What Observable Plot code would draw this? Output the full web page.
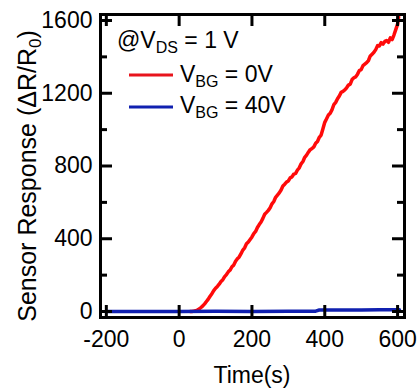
<!DOCTYPE html>
<html>
<head>
<meta charset="utf-8">
<script src="https://cdn.jsdelivr.net/npm/d3@7"></script>
<script src="https://cdn.jsdelivr.net/npm/@observablehq/plot@0.6"></script>
<style>
  body { margin: 0; background: #fff; }
  svg { font-family: "Liberation Sans", Arial, sans-serif; }
</style>
</head>
<body>
<div id="chart"></div>
<script>
// Red series: V_BG = 0V
const redTime = [30,35,40,45,50,55,60,65,70,75,80,85,90,95,100,105,110,115,120,125,130,135,140,145,150,155,160,165,170,175,180,185,190,195,200,205,210,215,220,225,230,235,240,245,250,255,260,265,270,275,280,285,290,295,300,305,310,315,320,325,330,335,340,345,350,355,360,365,370,375,380,385,390,395,400,405,410,415,420,425,430,435,440,445,450,455,460,465,470,475,480,485,490,495,500,505,510,515,520,525,530,535,540,545,550,555,560,565,570,575,580,585,590,595,600,603];
const redValue = [0,0,2,4,8,14,22,31,42,55,68,84,98,115,128,138,150,165,175,192,203,218,228,246,255,276,290,300,318,338,350,372,382,396,410,428,440,462,478,492,512,535,545,556,570,592,605,628,640,652,668,690,700,712,718,735,740,756,760,778,790,812,825,848,860,876,890,896,905,925,935,958,970,1005,1040,1060,1080,1090,1110,1138,1150,1170,1185,1205,1210,1218,1230,1245,1250,1275,1285,1290,1305,1325,1330,1352,1360,1368,1380,1405,1415,1425,1440,1462,1460,1478,1470,1485,1490,1480,1505,1495,1520,1550,1580,1620];
// Blue series: V_BG = 40V
const blueTime = [-200,-100,0,100,200,300,375,385,450,500,550,605];
const blueValue = [0,0,0,1,0,1,2,8,8,8,9,9];

const xTicks = [-200, 0, 200, 400, 600];
const yTicks = [0, 400, 800, 1200, 1600];
const yMinor = [200, 600, 1000, 1400];

const red = redTime.map((t, i) => ({t, v: redValue[i]}));
const blue = blueTime.map((t, i) => ({t, v: blueValue[i]}));

const W = 418, H = 390, ML = 100, MR = 14, MT = 14, MB = 73;
const PW = W - ML - MR, PH = H - MT - MB;
const FONT = "Liberation Sans, Arial, sans-serif";

const svg = Plot.plot({
  width: W, height: H,
  marginLeft: ML, marginRight: MR, marginTop: MT, marginBottom: MB,
  style: {fontFamily: FONT, background: "#fff", color: "#000"},
  x: {domain: [-216, 619]},
  y: {domain: [-33, 1633]},
  marks: [
    Plot.axisX({ticks: xTicks, tickSize: 0, tickPadding: 13, fontSize: 23, label: null, tickFormat: d => String(d)}),
    Plot.axisY({ticks: yTicks, tickSize: 0, tickPadding: 8, fontSize: 23, label: null, tickFormat: d => String(d)}),
    Plot.line(red, {x: "t", y: "v", stroke: "#ff0a0a", strokeWidth: 3.5}),
    Plot.line(blue, {x: "t", y: "v", stroke: "#1020b0", strokeWidth: 3.5}),
    // inward ticks
    Plot.tickX(xTicks, {x: d => d, insetTop: PH - 12, stroke: "#000", strokeWidth: 3}),
    Plot.tickX(xTicks, {x: d => d, insetBottom: PH - 12, stroke: "#000", strokeWidth: 3}),
    Plot.tickY(yTicks, {y: d => d, insetRight: PW - 12, stroke: "#000", strokeWidth: 3}),
    Plot.tickY(yTicks, {y: d => d, insetLeft: PW - 12, stroke: "#000", strokeWidth: 3}),
    Plot.tickY(yMinor, {y: d => d, insetRight: PW - 7, stroke: "#000", strokeWidth: 3}),
    Plot.tickY(yMinor, {y: d => d, insetLeft: PW - 7, stroke: "#000", strokeWidth: 3}),
    Plot.frame({stroke: "#000", strokeWidth: 3})
  ]
});

const s = d3.select(svg);

// x axis title
s.append("text")
  .attr("x", ML + PW / 2).attr("y", 383)
  .attr("text-anchor", "middle")
  .attr("font-size", 23).attr("font-family", FONT).attr("fill", "#000")
  .text("Time(s)");

// y axis title
const yl = s.append("text")
  .attr("transform", "translate(36,176) rotate(-90)")
  .attr("text-anchor", "middle")
  .attr("font-size", 25).attr("font-family", FONT).attr("fill", "#000");
yl.append("tspan").text("Sensor Response (ΔR/R");
yl.append("tspan").attr("font-size", 17).attr("dy", 5).text("0");
yl.append("tspan").attr("dy", -5).text(")");

// Legend
function subText(x, y, main, sub, rest) {
  const t = s.append("text").attr("x", x).attr("y", y)
    .attr("text-anchor", "start")
    .attr("font-size", 23).attr("font-family", FONT).attr("fill", "#000");
  t.append("tspan").text(main);
  t.append("tspan").attr("font-size", 16).attr("dy", 5).text(sub);
  t.append("tspan").attr("dy", -5).text(rest);
}
subText(117, 48, "@V", "DS", " = 1 V");
s.append("line").attr("x1", 129).attr("x2", 173).attr("y1", 75).attr("y2", 75)
  .attr("stroke", "#e8141c").attr("stroke-width", 3);
subText(180, 82, "V", "BG", " = 0V");
s.append("line").attr("x1", 129).attr("x2", 173).attr("y1", 107).attr("y2", 107)
  .attr("stroke", "#1020b0").attr("stroke-width", 3);
subText(180, 113, "V", "BG", " = 40V");

document.getElementById("chart").appendChild(svg);
</script>
</body>
</html>
